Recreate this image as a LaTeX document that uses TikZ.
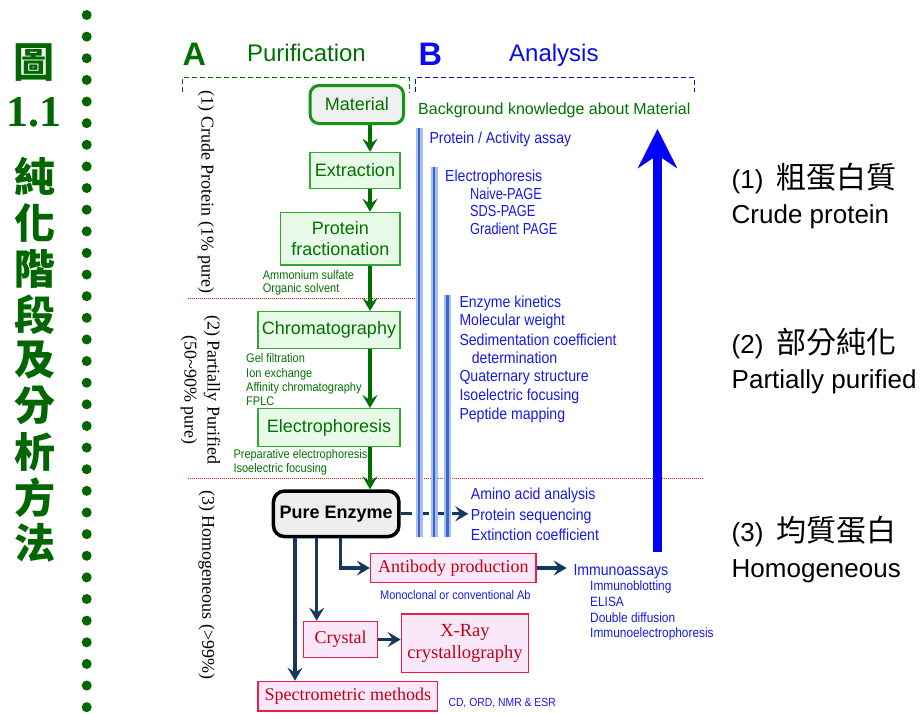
\documentclass[tikz,border=0pt]{standalone}
\usepackage{fontspec}
\setmainfont{Liberation Sans}
\newfontfamily\seriff{Liberation Serif}
\newfontfamily\narrowf[FakeStretch=0.88]{Liberation Sans}
\newfontfamily\narrowg[FakeStretch=0.80]{Liberation Sans}
\newfontfamily\cjk{Noto Sans CJK TC}
\usetikzlibrary{arrows.meta}
\newcommand\myfs[1]{\fontsize{#1}{#1}\selectfont}
\definecolor{tgreen}{RGB}{0,102,0}
\definecolor{hgreen}{RGB}{0,112,0}
\definecolor{gtext}{RGB}{0,115,0}
\definecolor{gborder}{RGB}{50,170,50}
\definecolor{gfill}{RGB}{232,250,232}
\definecolor{matborder}{RGB}{20,150,20}
\definecolor{matfill}{RGB}{240,240,240}
\definecolor{garrowc}{RGB}{0,110,0}
\definecolor{navy}{RGB}{23,55,94}
\definecolor{btext}{RGB}{25,25,235}
\definecolor{hblue}{RGB}{10,10,240}
\definecolor{rtext}{RGB}{195,0,20}
\definecolor{rborder}{RGB}{235,30,70}
\definecolor{rfill}{RGB}{250,232,250}
\definecolor{barlight}{RGB}{165,192,238}
\definecolor{bardark}{RGB}{60,100,205}
\definecolor{reddot}{RGB}{230,20,20}
\definecolor{purefill}{RGB}{238,238,238}
\begin{document}
\begin{tikzpicture}[x=1pt,y=-1pt,
  gbox/.style={draw=gborder, fill=gfill, line width=1.3pt, inner sep=0pt, text=gtext, font=\myfs{18}},
  rbox/.style={draw=rborder, fill=rfill, line width=1.5pt, inner sep=0pt, text=rtext, font=\seriff\myfs{18}},
  btxt/.style={anchor=base west, inner sep=0pt, text=btext, font=\narrowf\myfs{16}},
  bcap/.style={btxt, font=\narrowg\myfs{16}},
  bsub/.style={btxt, font=\narrowf\myfs{13.5}},
  bsmall/.style={btxt, font=\narrowf\myfs{12.5}},
  gsmall/.style={anchor=base west, inner sep=0pt, text=gtext, font=\narrowf\myfs{12.5}},
  garrow/.style={line width=3.5pt, draw=garrowc, -{Stealth[length=13pt,width=15pt,inset=5pt]}},
  navarrow/.style={line width=3.2pt, draw=navy, -{Stealth[length=13pt,width=15pt,inset=5pt]}},
  vlabel/.style={rotate=-90, inner sep=0pt, font=\seriff\myfs{18}},
  rlabel/.style={anchor=base west, inner sep=0pt, font=\myfs{26}},
  ttl/.style={inner sep=0pt, text=tgreen, font=\cjk\bfseries\myfs{41}},
  hdr/.style={anchor=base west, inner sep=0pt}
]
\useasboundingbox (0,0) rectangle (924,713);

% title column
\node[ttl] (t0) at (34,62.5) {圖};
\node[inner sep=0pt, text=tgreen, font=\seriff\bfseries\myfs{44}] (t1) at (34,112.5) {1.1};
\foreach \c [count=\i from 0] in {純,化,階,段,及,分,析,方,法}
  \node[ttl] (c\i) at (35,177+45.75*\i) {\c};
\foreach \k in {0,...,32}
  \fill[tgreen] (86.7,15+21.63*\k) circle (5pt);

% headers
\node[hdr, font=\bfseries\myfs{32.5}, text=hgreen] (hA) at (182.5,65.4) {A};
\node[hdr, font=\myfs{24}, text=hgreen] (hP) at (246.9,61.6) {Purification};
\node[hdr, font=\bfseries\myfs{32.5}, text=hblue] (hB) at (418.5,65.4) {B};
\node[hdr, font=\myfs{24}, text=hblue] (hAn) at (509,61.6) {Analysis};
\draw[hgreen, line width=1.2pt, dash pattern=on 5pt off 3pt] (182.7,92) -- (182.7,77.5) -- (409.8,77.5) -- (409.8,92);
\draw[hblue, line width=1.2pt, dash pattern=on 5pt off 3pt] (415.3,92) -- (415.3,77.5) -- (694.6,77.5) -- (694.6,92);

% red dotted separators
\draw[reddot, line width=1pt, densely dotted] (188,298.5) -- (415,298.5);
\draw[reddot, line width=1pt, densely dotted] (188,478) -- (703,478);

% vertical stage labels
\node[vlabel] (l1) at (206,192) {(1) Crude Protein (1\% pure)};
\node[vlabel] (l2a) at (212,389.5) {(2) Partially Purified};
\node[vlabel] (l2b) at (189,390) {(50\textasciitilde90\% pure)};
\node[vlabel] (l3) at (206.7,585) {(3) Homogeneous (>99\%)};

% purification boxes
\node[draw=matborder, fill=matfill, line width=3pt, rounded corners=9pt, inner sep=0pt,
      minimum width=93.4pt, minimum height=38pt, text=gtext, font=\myfs{18}] (mat) at (356.8,104.5) {Material};
\node[gbox, minimum width=90pt, minimum height=36.3pt] (ext) at (355,170.5) {Extraction};
\node[gbox, minimum width=119.4pt, minimum height=52.7pt, align=center, font=\fontsize{18}{21.7}\selectfont] (pf) at (340.3,238.7) {Protein\\fractionation};
\node[gbox, minimum width=142pt, minimum height=36.7pt] (chr) at (329,330) {Chromatography};
\node[gbox, minimum width=142pt, minimum height=37.7pt] (ele) at (329,427.5) {Electrophoresis};
\node[draw=black, fill=purefill, line width=3.5pt, rounded corners=11pt, inner sep=0pt,
      minimum width=125.5pt, minimum height=45.5pt, font=\bfseries\myfs{18}] (pure) at (336.2,513.8) {Pure Enzyme};

\node[gsmall] (g1) at (262.7,279.3) {Ammonium sulfate};
\node[gsmall] (g2) at (262.7,292.7) {Organic solvent};
\node[gsmall] (g3) at (246,362.7) {Gel filtration};
\node[gsmall] (g4) at (246,377.3) {Ion exchange};
\node[gsmall] (g5) at (246,391.7) {Affinity chromatography};
\node[gsmall] (g6) at (246,405.7) {FPLC};
\node[gsmall] (g7) at (233.3,458.3) {Preparative electrophoresis};
\node[gsmall] (g8) at (233.3,472.7) {Isoelectric focusing};

\coordinate (gx) at (370,0);
\draw[garrow] (mat.south -| gx) -- (ext.north -| gx);
\draw[garrow] (ext.south -| gx) -- (pf.north -| gx);
\draw[garrow] (pf.south -| gx) -- (chr.north -| gx);
\draw[garrow] (chr.south -| gx) -- (ele.north -| gx);
\draw[garrow] (ele.south -| gx) -- (pure.north -| gx);

% analysis texts
\node[hdr, font=\myfs{16}, text=gtext] (bg) at (418,114.3) {Background knowledge about Material};
\node[btxt] (a1) at (429.3,143.3) {Protein / Activity assay};
\node[btxt] (a2) at (445,181) {Electrophoresis};
\node[bcap] (a3) at (470,199.3) {Naive-PAGE};
\node[bcap] (a4) at (470,216.7) {SDS-PAGE};
\node[bcap] (a5) at (470,234) {Gradient PAGE};
\node[btxt] (a6) at (459.3,307.3) {Enzyme kinetics};
\node[btxt] (a7) at (459.3,325.7) {Molecular weight};
\node[btxt] (a8) at (459.3,345) {Sedimentation coefficient};
\node[btxt] (a9) at (471.7,363.3) {determination};
\node[btxt] (a10) at (459.3,381.7) {Quaternary structure};
\node[btxt] (a11) at (459.3,400.7) {Isoelectric focusing};
\node[btxt] (a12) at (459.3,419.3) {Peptide mapping};
\node[btxt] (aa) at (470.7,499.3) {Amino acid analysis};
\node[btxt] (seq) at (470.7,520) {Protein sequencing};
\node[btxt] (ext2) at (470.7,540.7) {Extinction coefficient};
\node[btxt] (imm) at (573.3,575) {Immunoassays};
\node[bsub] (i1) at (590,590.7) {Immunoblotting};
\node[bsub] (i2) at (590,606.7) {ELISA};
\node[bsub] (i3) at (590,622.3) {Double diffusion};
\node[bsub] (i4) at (590,637.7) {Immunoelectrophoresis};
\node[bsmall] (mono) at (380,599.3) {Monoclonal or conventional Ab};
\node[btxt, font=\narrowf\myfs{11.8}] (cd) at (448.3,706) {CD, ORD, NMR \& ESR};

% red boxes
\node[rbox, minimum width=165.2pt, minimum height=29.1pt] (anti) at (453.3,568) {Antibody production};
\node[rbox, minimum width=74.1pt, minimum height=36.1pt] (cry) at (340.5,639.5) {Crystal};
\node[rbox, minimum width=127.1pt, minimum height=58.5pt, align=center, font=\seriff\fontsize{18.5}{22.4}\selectfont] (xray) at (465,643.3) {X-Ray\\crystallography};
\node[rbox, minimum width=179.5pt, minimum height=29.5pt] (spec) at (347.8,696.2) {Spectrometric methods};

% navy arrows
\coordinate (n1) at (295,0);
\coordinate (n2) at (316.7,0);
\coordinate (n3) at (340.7,0);
\draw[navarrow] (pure.south -| n1) -- (spec.north -| n1);
\draw[navarrow] (pure.south -| n2) -- (cry.north -| n2);
\draw[navarrow] (pure.south -| n3) |- (anti.west);
\draw[navarrow] (cry.east) -- (cry.east -| xray.west);
\draw[navarrow, shorten >=6.6pt] (anti.east) -- (anti.east -| imm.west);
\draw[navarrow, dash pattern=on 11pt off 6pt, shorten >=2.4pt] (pure.east) -- (pure.east -| seq.west);

% analysis bars
\foreach \bx/\by in {419/128, 434/167, 447.5/295} {
  \draw[line width=7pt, barlight] (\bx,\by) -- (\bx,537);
  \draw[line width=2.2pt, bardark] (\bx,\by) -- (\bx,537);
}

% big blue arrow
\coordinate (ab) at (657.5,552);
\coordinate (at) at (657.5,129);
\draw[line width=8.5pt, blue, -{Stealth[length=39pt,width=39pt,inset=13pt]}] (ab) -- (at);

% right labels
\node[rlabel] (r1) at (731.5,188.5) {(1)\hspace{13pt}{\cjk\myfs{30}粗蛋白質}};
\node[rlabel] (r1e) at (731.5,223.3) {Crude protein};
\node[rlabel] (r2) at (731.5,353.3) {(2)\hspace{13pt}{\cjk\myfs{30}部分純化}};
\node[rlabel] (r2e) at (731.5,388.3) {Partially purified};
\node[rlabel] (r3) at (731.5,541.7) {(3)\hspace{13pt}{\cjk\myfs{30}均質蛋白}};
\node[rlabel] (r3e) at (731.5,577.3) {Homogeneous};
\end{tikzpicture}
\end{document}
